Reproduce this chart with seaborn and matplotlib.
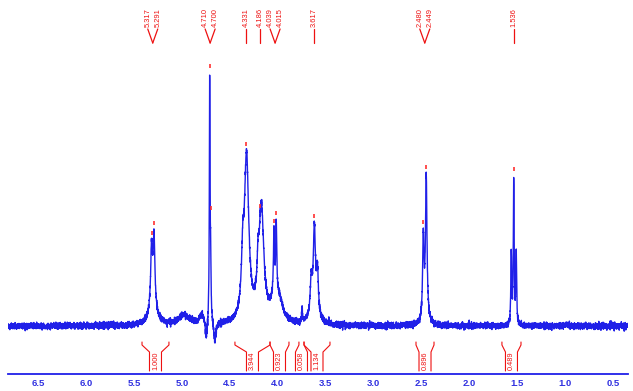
import numpy as np
import pandas as pd
import seaborn as sns
import matplotlib
matplotlib.use("Agg")
import matplotlib.pyplot as plt

# ---------------- data ----------------
# Lorentzian components of the 1H spectrum: position (ppm), height, half width (ppm)
peak_ppm = [5.317, 5.291, 5.300, 4.980, 4.790, 4.745, 4.710, 4.700, 4.655,
            4.365, 4.325, 4.205, 4.170, 4.039, 4.015, 4.025, 3.975,
            3.745, 3.650, 3.617, 3.585, 3.620,
            2.480, 2.449, 2.460, 1.562, 1.536, 1.510]
peak_height = [60, 70, 16, 10, 10, -20, 240, 60, -20,
               45, 165, 30, 112, 60, 66, 25, 12,
               14, 32, 78, 42, 16,
               78, 136, 12, 70, 145, 70]
peak_hwhm = [0.011, 0.011, 0.05, 0.07, 0.03, 0.012, 0.004, 0.005, 0.012,
             0.014, 0.028, 0.012, 0.030, 0.006, 0.006, 0.05, 0.04,
             0.005, 0.011, 0.013, 0.011, 0.045,
             0.008, 0.009, 0.03, 0.005, 0.005, 0.005]

# peak-pick labels (groups share one connector)
label_ppm = [5.317, 5.291, 4.710, 4.700, 4.331, 4.186, 4.039, 4.015,
             3.617, 2.480, 2.449, 1.536]
label_text = ["5.317", "5.291", "4.710", "4.700", "4.331", "4.186", "4.039",
              "4.015", "3.617", "2.480", "2.449", "1.536"]
label_group = [0, 0, 1, 1, 2, 3, 4, 4, 5, 6, 6, 7]

# integrals
int_start = [5.416, 4.446, 4.080, 3.778, 3.725, 2.556, 1.659]
int_end = [5.135, 4.080, 3.882, 3.725, 3.454, 2.368, 1.460]
int_value = ["1.000", "3.944", "0.923", "0.058", "1.134", "0.896", "0.489"]

xtick_values = [6.5, 6.0, 5.5, 5.0, 4.5, 4.0, 3.5, 3.0, 2.5, 2.0, 1.5, 1.0, 0.5]
xtick_labels = ["6.5", "6.0", "5.5", "5.0", "4.5", "4.0", "3.5", "3.0",
                "2.5", "2.0", "1.5", "1.0", "0.5"]

# ---------------- build spectrum ----------------
x_lo, x_hi = 6.815, 0.343
ppm = np.linspace(x_lo, x_hi, 9000)


def model(p):
    p = np.atleast_1d(p)
    y = np.zeros_like(p, dtype=float)
    for c, h, w in zip(peak_ppm, peak_height, peak_hwhm):
        y += h * w ** 2 / ((p - c) ** 2 + w ** 2)
    return y


clean = model(ppm)
rng = np.random.default_rng(7)
texture = rng.normal(0, 1.5, ppm.size)  # baseline noise texture
df = pd.DataFrame({"ppm": ppm, "intensity": clean + texture})

# ---------------- plot ----------------
sns.set_style("white")
plt.rcParams["font.family"] = ["Liberation Sans", "DejaVu Sans"]

W, H = 633, 391
fig = plt.figure(figsize=(W / 100, H / 100), dpi=100)
ax = fig.add_axes([8 / W, 17 / H, 620 / W, 374 / H])

blue = "#2020e8"
red = "#ee1111"

sns.lineplot(data=df, x="ppm", y="intensity", estimator=None, sort=False,
             ax=ax, color=blue, lw=1.0)

ax.set_xlim(x_lo, x_hi)
ax.set_ylim(-48, 326)
ax.set_xlabel("")
ax.set_ylabel("")
ax.set_yticks([])
for s in ["top", "left", "right"]:
    ax.spines[s].set_visible(False)
ax.spines["bottom"].set_color(blue)
ax.spines["bottom"].set_linewidth(1.3)
ax.set_xticks(xtick_values)
ax.set_xticklabels(xtick_labels)
ax.set_xticks(np.arange(0.4, 6.81, 0.1), minor=True)
ax.tick_params(axis="x", which="major", length=3, width=1, color=blue,
               labelcolor="#3030e0", labelsize=6.8, pad=0.8)
ax.tick_params(axis="x", which="minor", length=2, width=1, color=blue)
for t in ax.get_xticklabels():
    t.set_fontweight("bold")

# peak markers
px_per_ppm = 620 / (x_lo - x_hi)
for p in label_ppm:
    loc = np.linspace(p - 0.004, p + 0.004, 41)
    h = model(loc).max()
    ax.plot([p, p], [h + 5, h + 9], color="#ff3030", lw=1.2,
            solid_capstyle="butt")

# peak labels on top with connectors
off = 10 / px_per_ppm
groups = {}
for i, g in enumerate(label_group):
    groups.setdefault(g, []).append(i)
for g, idx in groups.items():
    center = np.mean([label_ppm[i] for i in idx])
    n = len(idx)
    for k, i in enumerate(idx):
        lx = center + off * ((n - 1) / 2 - k)
        ax.text(lx, 299, label_text[i], rotation=90, ha="center", va="bottom",
                fontsize=5.4, color=red)
        ax.plot([lx, center], [297, 283], color=red, lw=0.9)

# integrals
box = 6 / px_per_ppm
for s, e, v in zip(int_start, int_end, int_value):
    c = (s + e) / 2
    ax.plot([s, s, c + box, c + box], [-16, -19, -26, -45], color=red, lw=0.8)
    ax.plot([e, e, c - box, c - box], [-16, -19, -26, -45], color=red, lw=0.8)
    ax.text(c, -35, v, rotation=90, ha="center", va="center",
            fontsize=5.3, color=red)

fig.savefig("out.png", dpi=100)
